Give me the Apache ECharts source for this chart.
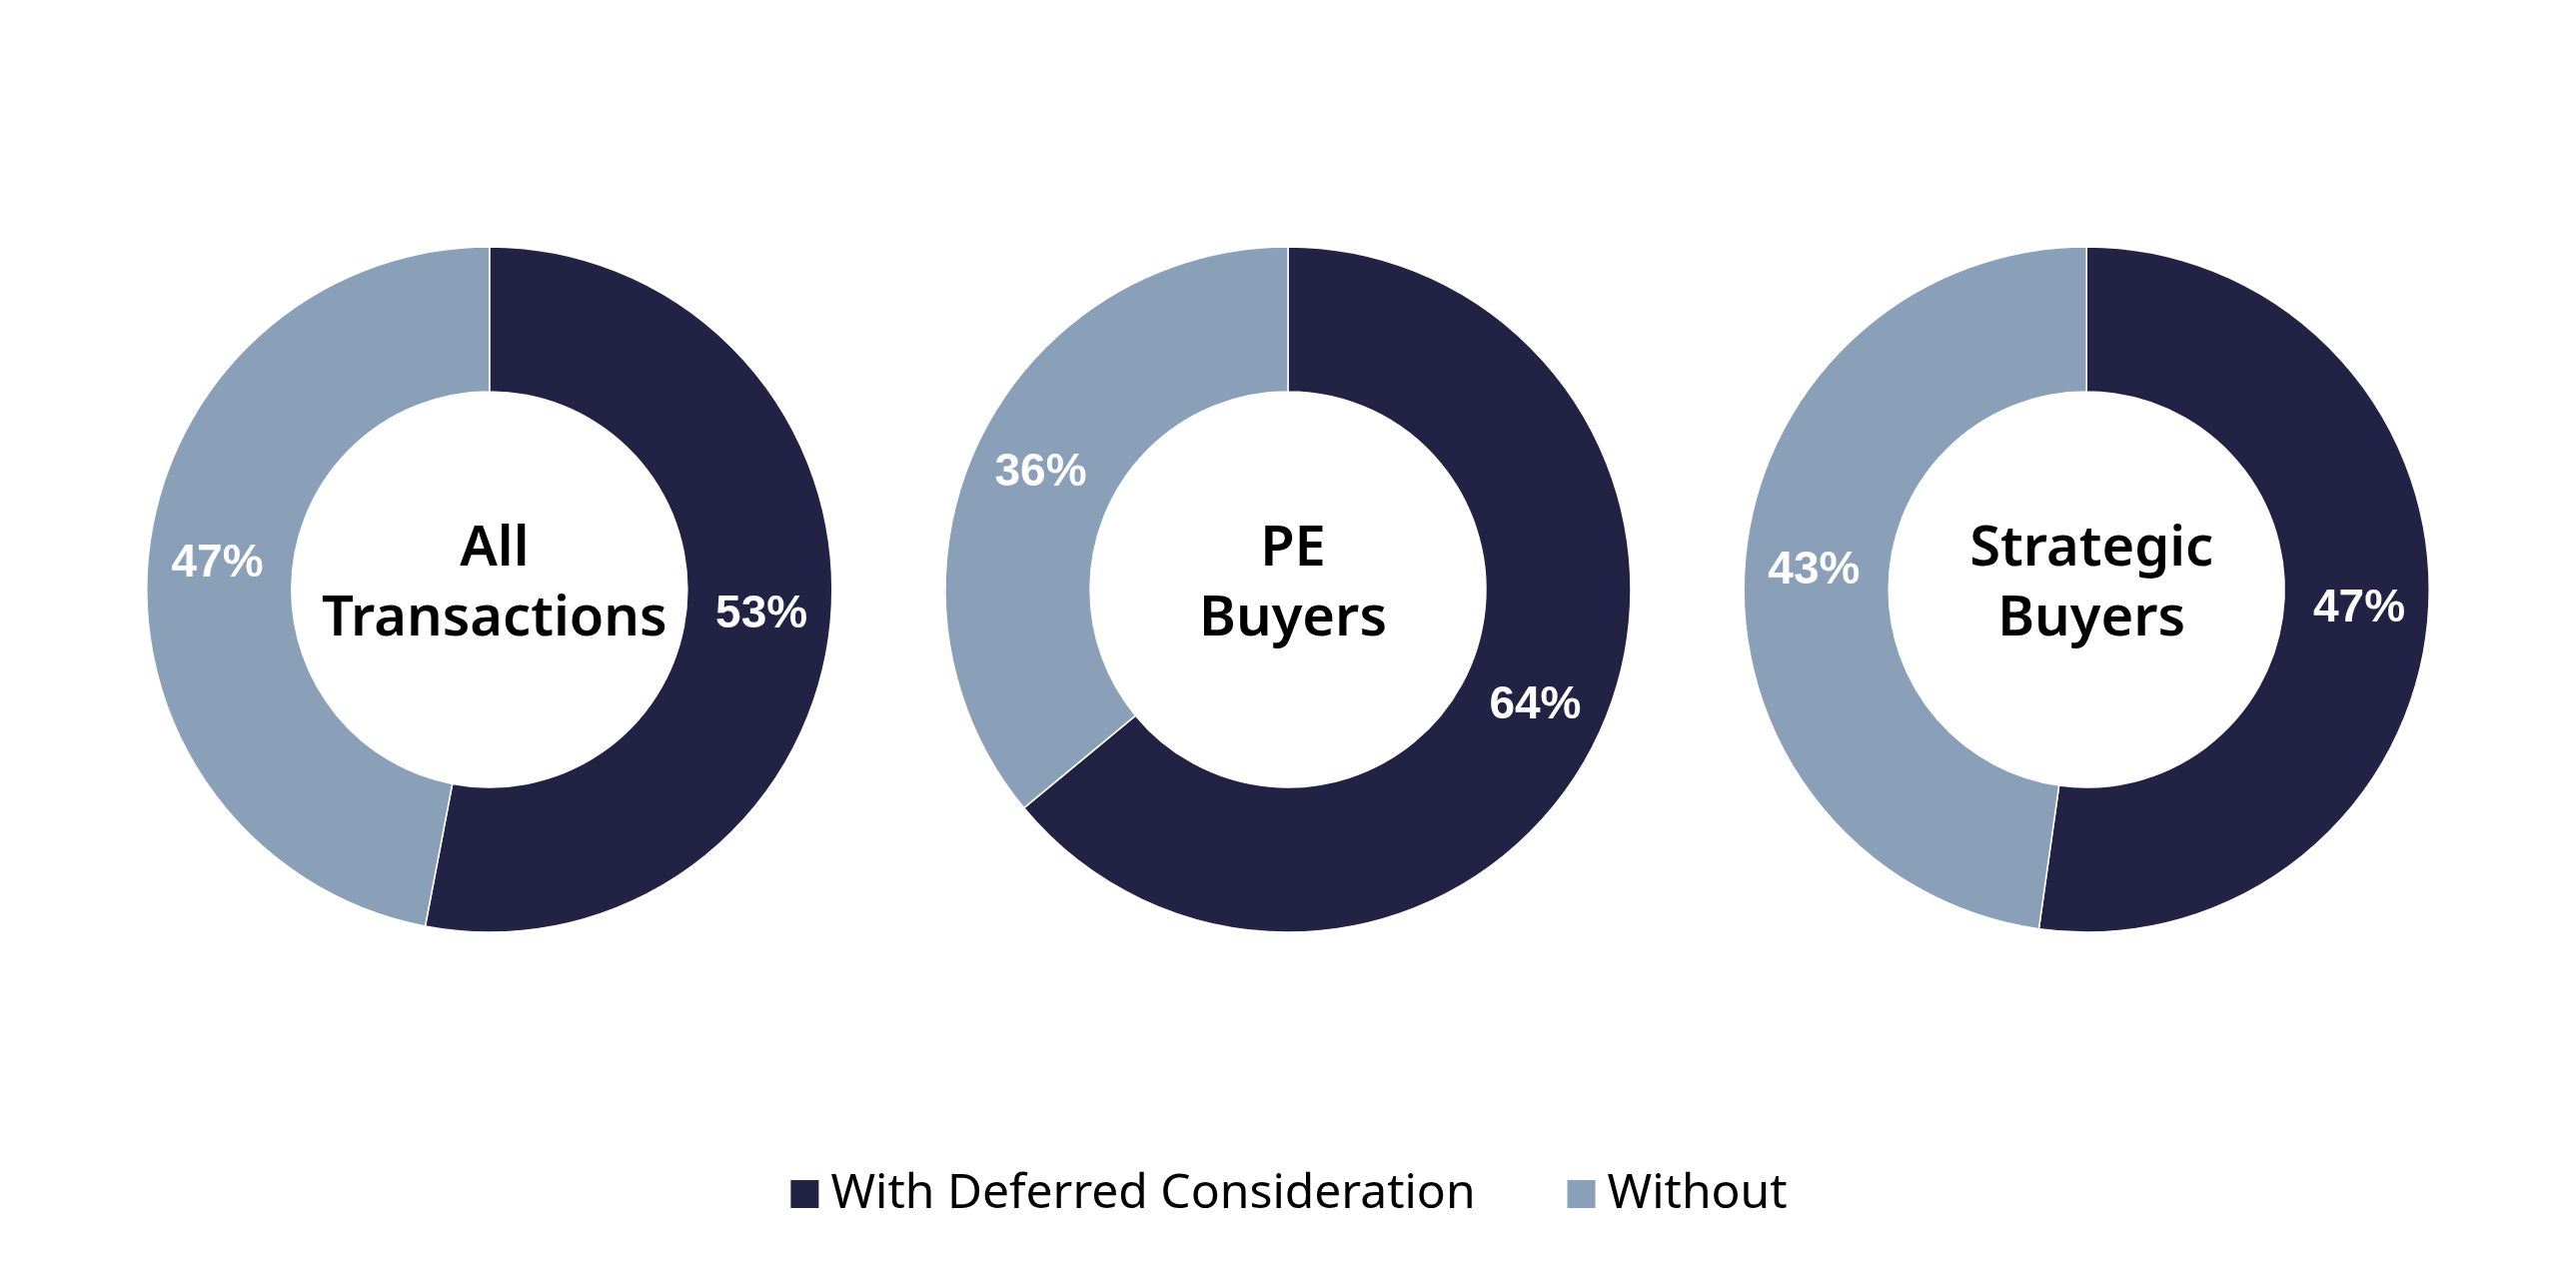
<!DOCTYPE html>
<html><head><meta charset="utf-8">
<script src="https://cdn.jsdelivr.net/npm/echarts@6/dist/echarts.min.js"></script>
<style>html,body{margin:0;padding:0;background:#fff}#c{width:2578px;height:1266px}</style>
</head><body><div id="c"></div>
<script>
const groups = ['All\nTransactions', 'PE\nBuyers', 'Strategic\nBuyers'];
const seriesNames = ['With Deferred Consideration', 'Without'];
const withDeferred = [53, 64, 47];
const without = [47, 36, 43];
const colors = ['#222244', '#8aa0b8'];
const centersX = ['19.0%', '50.0%', '81.0%'];

const chart = echarts.init(document.getElementById('c'));
const series = groups.map((g, i) => ({
  type: 'pie',
  name: g,
  center: [centersX[i], '46.6%'],
  radius: [198, 343],
  startAngle: 90,
  clockwise: true,
  avoidLabelOverlap: false,
  itemStyle: { borderColor: '#fff', borderWidth: 1.5 },
  label: {
    show: true, position: 'inside', formatter: '{c}%',
    color: '#fff', fontFamily: 'Liberation Sans', fontWeight: 'bold', fontSize: 46
  },
  labelLine: { show: false },
  emphasis: { disabled: true },
  data: [
    { name: seriesNames[0], value: withDeferred[i], itemStyle: { color: colors[0] } },
    { name: seriesNames[1], value: without[i], itemStyle: { color: colors[1] } }
  ]
}));
const titles = groups.map((g, i) => ({
  text: g, left: centersX[i], top: '40.3%', textAlign: 'center',
  textStyle: { fontFamily: 'Noto Sans', fontWeight: 600, fontSize: 56, lineHeight: 70, color: '#000' }
}));
chart.setOption({
  animation: false,
  title: titles,
  color: colors,
  legend: {
    bottom: 42, left: 'center', itemWidth: 30, itemHeight: 30, itemGap: 90,
    icon: 'rect',
    textStyle: { fontFamily: 'Noto Sans', fontSize: 48, color: '#000', padding: [0, 0, 0, 6] },
    data: seriesNames
  },
  series
});
</script></body></html>
